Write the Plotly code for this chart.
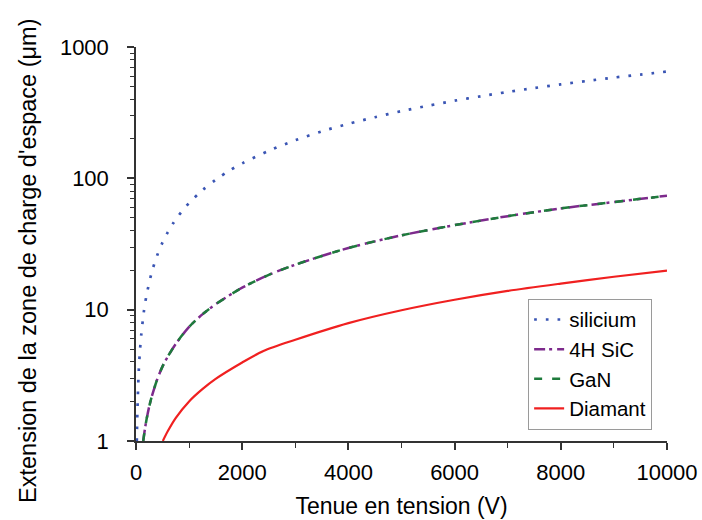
import plotly.graph_objects as go

# ---- data ----
x_si = [15, 25, 50, 75, 100, 150, 200, 300, 400, 500, 600, 700, 800, 1000, 1250, 1500, 1750,
        2000, 2500, 3000, 3500, 4000, 4500, 5000, 5500, 6000, 6500, 7000, 7500, 8000, 8500,
        9000, 9500, 10000]
y_si = [1.0, 1.6, 3.3, 4.9, 6.5, 9.8, 13, 19.5, 26, 32.5, 39, 45.5, 52, 65, 81, 97.5, 114,
        130, 162, 195, 228, 260, 292, 325, 357, 390, 422, 455, 487, 520, 552, 585, 617, 650]

x_sic = [136, 170, 200, 250, 300, 400, 500, 600, 750, 1000, 1250, 1500, 2000, 2500, 3000,
         4000, 5000, 6000, 7000, 8000, 9000, 10000]
y_sic = [1.0, 1.25, 1.47, 1.84, 2.2, 2.95, 3.7, 4.4, 5.5, 7.4, 9.2, 11, 14.7, 18.4, 22,
         29.5, 36.8, 44, 51.5, 59, 66, 73.7]

x_gan = [136, 170, 200, 250, 300, 400, 500, 600, 750, 1000, 1250, 1500, 2000, 2500, 3000,
         4000, 5000, 6000, 7000, 8000, 9000, 10000]
y_gan = [1.0, 1.25, 1.47, 1.84, 2.2, 2.95, 3.7, 4.4, 5.5, 7.4, 9.2, 11, 14.7, 18.4, 22,
         29.5, 36.8, 44, 51.5, 59, 66, 73.7]

x_dia = [505, 600, 750, 1000, 1250, 1500, 2000, 2400, 3000, 4000, 5000, 6000, 7000, 8000,
         9000, 10000]
y_dia = [1.0, 1.19, 1.5, 2.0, 2.48, 2.97, 3.96, 4.85, 5.9, 7.9, 9.9, 11.9, 13.9, 15.8,
         17.8, 19.8]

names = ["silicium", "4H SiC", "GaN", "Diamant"]
x_ticks = [0, 2000, 4000, 6000, 8000, 10000]
y_ticks = [1, 10, 100, 1000]

FONT = "Liberation Sans, Arial, sans-serif"

fig = go.Figure()
fig.add_trace(go.Scatter(x=x_si, y=y_si, mode="lines", name=names[0],
                         line=dict(color="#3a55b4", width=2.7, dash="2.7px,9px",
                                   shape="spline", smoothing=0.8)))
fig.add_trace(go.Scatter(x=x_sic, y=y_sic, mode="lines", name=names[1],
                         line=dict(color="#7d2a8c", width=2.5, dash="11px,4px,3px,5px",
                                   shape="spline", smoothing=0.8)))
fig.add_trace(go.Scatter(x=x_gan, y=y_gan, mode="lines", name=names[2],
                         line=dict(color="#1e7b3c", width=2.5, dash="8px,10px",
                                   shape="spline", smoothing=0.8)))
fig.add_trace(go.Scatter(x=x_dia, y=y_dia, mode="lines", name=names[3],
                         line=dict(color="#f02020", width=2.2,
                                   shape="spline", smoothing=0.8)))

fig.update_layout(
    width=702, height=520,
    margin=dict(l=136, r=35, t=47, b=79),
    paper_bgcolor="white", plot_bgcolor="white",
    font=dict(family=FONT, size=22, color="black"),
    showlegend=True,
    legend=dict(x=0.972, y=0.195, xanchor="right", yanchor="middle",
                bgcolor="white", bordercolor="#9a9a9a", borderwidth=1,
                font=dict(size=20.5, family=FONT), tracegroupgap=0),
    xaxis=dict(range=[0, 10000], tickvals=x_ticks, ticktext=[str(v) for v in x_ticks],
               automargin=False,
               showgrid=False, zeroline=False, showline=True, linecolor="#333",
               linewidth=1.5, ticks="outside", ticklen=7, tickwidth=1.5, tickcolor="#333",
               ticklabelstandoff=4,
               minor=dict(dtick=1000, ticks="outside", ticklen=5, tickwidth=1.2,
                          tickcolor="#333", showgrid=False),
               title=dict(text="Tenue en tension (V)", font=dict(size=23), standoff=14),
               tickfont=dict(size=22)),
    yaxis=dict(type="log", range=[0, 3], tickvals=y_ticks, ticktext=[str(v) for v in y_ticks],
               automargin=False,
               showgrid=False, zeroline=False, showline=True, linecolor="#333",
               linewidth=1.5, ticks="outside", ticklen=7, tickwidth=1.5, tickcolor="#333",
               ticklabelstandoff=14,
               minor=dict(dtick="D1", ticks="outside", ticklen=4, tickwidth=1.2,
                          tickcolor="#333", showgrid=False),
               tickfont=dict(size=22)),
    annotations=[dict(text="Extension de la zone de charge d'espace (μm)",
                      xref="paper", yref="paper", x=-0.2034, y=0.457,
                      xanchor="center", yanchor="middle", textangle=-90,
                      showarrow=False, font=dict(size=23.5, family=FONT))],
)

fig.write_html("out.html", config={"displayModeBar": False},
               post_script="document.body.style.margin='0';")
